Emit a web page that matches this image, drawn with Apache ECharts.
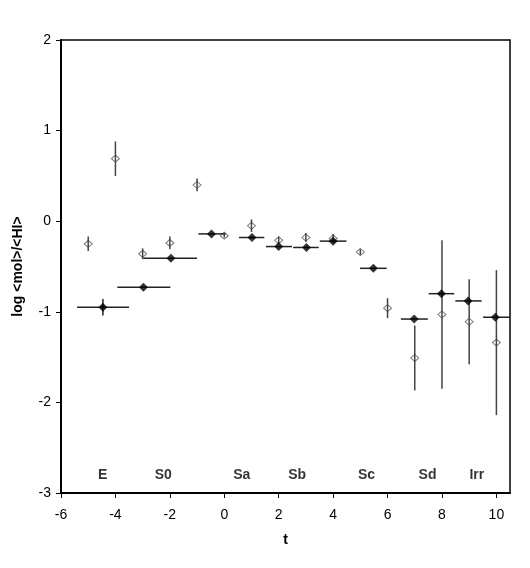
<!DOCTYPE html>
<html>
<head>
<meta charset="utf-8">
<script src="https://cdn.jsdelivr.net/npm/echarts@6/dist/echarts.min.js"></script>
<style>
  html, body { margin: 0; padding: 0; background: #fff; }
  #mychart { width: 530px; height: 568px; }
</style>
</head>
<body>
<div id="mychart"></div>
<script>
// filled points: t, value, t range (low, high), vertical error
var filledT    = [-4.46, -2.97, -1.96, -0.47, 1.02, 2.0, 3.02, 4.0, 5.48, 6.98, 7.98, 8.96, 9.96];
var filledVal  = [-0.95, -0.73, -0.41, -0.14, -0.18, -0.28, -0.29, -0.22, -0.52, -1.08, -0.80, -0.88, -1.06];
var filledLo   = [-5.41, -3.93, -2.97, -0.95, 0.54, 1.53, 2.53, 3.51, 4.99, 6.49, 7.51, 8.49, 9.51];
var filledHi   = [-3.50, -1.98, -1.00, 0.05, 1.47, 2.49, 3.47, 4.49, 5.97, 7.48, 8.45, 9.46, 10.5];
var filledErr  = [0.09, 0, 0, 0, 0, 0, 0, 0, 0, 0, 0, 0, 0];

// open points: t, value, vertical error
var openT   = [-5, -4, -3, -2, -1, 0, 1, 2, 3, 4, 5, 6, 7, 8, 9, 10];
var openVal = [-0.25, 0.69, -0.36, -0.24, 0.40, -0.16, -0.05, -0.21, -0.18, -0.19, -0.34, -0.96, -1.51, -1.03, -1.11, -1.34];
var openErr = [0.08, 0.19, 0.06, 0.07, 0.07, 0.02, 0.07, 0.04, 0.05, 0.05, 0.03, 0.11, 0.36, 0.82, 0.47, 0.80];

// morphological type labels
var typeNames = ['E', 'S0', 'Sa', 'Sb', 'Sc', 'Sd', 'Irr'];
var typeT     = [-4.47, -2.24, 0.64, 2.68, 5.23, 7.47, 9.28];
var typeY     = -2.8;

var mychart = echarts.init(document.getElementById('mychart'));

var hBars = filledT.map(function (t, i) { return [filledLo[i], filledHi[i], filledVal[i], t, filledErr[i]]; });
var vBars = openT.map(function (t, i) { return [t, openVal[i] - openErr[i], openVal[i] + openErr[i]]; });

var option = {
  animation: false,
  grid: { left: 61, right: 20, top: 40, bottom: 75, show: true, borderColor: '#000', borderWidth: 1.5 },
  xAxis: {
    type: 'value', min: -6, max: 10.5, interval: 2,
    name: 't', nameLocation: 'middle', nameGap: 40,
    nameTextStyle: { fontFamily: 'Liberation Sans', fontSize: 14, fontWeight: 'bold', color: '#000' },
    axisLine: { onZero: false, lineStyle: { color: '#000', width: 2 } },
    axisTick: { show: true, length: 5, lineStyle: { color: '#000' } },
    axisLabel: { margin: 15, showMaxLabel: false, fontFamily: 'Liberation Sans', fontSize: 14, color: '#000' },
    splitLine: { show: false }
  },
  yAxis: {
    type: 'value', min: -3, max: 2, interval: 1,
    name: 'log <mol>/<HI>', nameLocation: 'middle', nameGap: 36,
    nameTextStyle: { fontFamily: 'Liberation Sans', fontSize: 14, fontWeight: 'bold', color: '#000' },
    axisLine: { show: true, onZero: false, lineStyle: { color: '#000', width: 2 } },
    axisTick: { show: true, length: 5, lineStyle: { color: '#000' } },
    axisLabel: { margin: 10, fontFamily: 'Liberation Sans', fontSize: 14, color: '#000' },
    splitLine: { show: false }
  },
  series: [
    {
      type: 'scatter',
      data: openT.map(function (t, i) { return [t, openVal[i]]; }),
      symbol: 'diamond', symbolSize: [8, 7],
      itemStyle: { color: 'rgba(255,255,255,0)', borderColor: '#555', borderWidth: 1 },
      z: 2
    },
    {
      type: 'custom',
      data: vBars,
      renderItem: function (params, api) {
        var a = api.coord([api.value(0), api.value(1)]);
        var b = api.coord([api.value(0), api.value(2)]);
        return { type: 'line', shape: { x1: a[0], y1: a[1], x2: b[0], y2: b[1] }, style: { stroke: '#444', lineWidth: 1.5 } };
      },
      encode: { x: 0, y: [1, 2] },
      z: 3
    },
    {
      type: 'custom',
      data: hBars,
      renderItem: function (params, api) {
        var a = api.coord([api.value(0), api.value(2)]);
        var b = api.coord([api.value(1), api.value(2)]);
        var children = [{ type: 'line', shape: { x1: a[0], y1: a[1], x2: b[0], y2: b[1] }, style: { stroke: '#222', lineWidth: 1.5 } }];
        if (api.value(4) > 0) {
          var c = api.coord([api.value(3), api.value(2) - api.value(4)]);
          var d = api.coord([api.value(3), api.value(2) + api.value(4)]);
          children.push({ type: 'line', shape: { x1: c[0], y1: c[1], x2: d[0], y2: d[1] }, style: { stroke: '#222', lineWidth: 1.5 } });
        }
        return { type: 'group', children: children };
      },
      encode: { x: [0, 1], y: 2 },
      z: 3
    },
    {
      type: 'scatter',
      data: filledT.map(function (t, i) { return [t, filledVal[i]]; }),
      symbol: 'diamond', symbolSize: [9, 9],
      itemStyle: { color: '#000' },
      z: 4
    },
    {
      type: 'scatter',
      data: typeT.map(function (t, i) { return { value: [t, typeY], name: typeNames[i] }; }),
      symbolSize: 0,
      label: {
        show: true, position: 'inside', formatter: '{b}',
        fontFamily: 'Liberation Sans', fontSize: 14, fontWeight: 'bold', color: '#000'
      }
    }
  ]
};
mychart.setOption(option);
</script>
</body>
</html>
